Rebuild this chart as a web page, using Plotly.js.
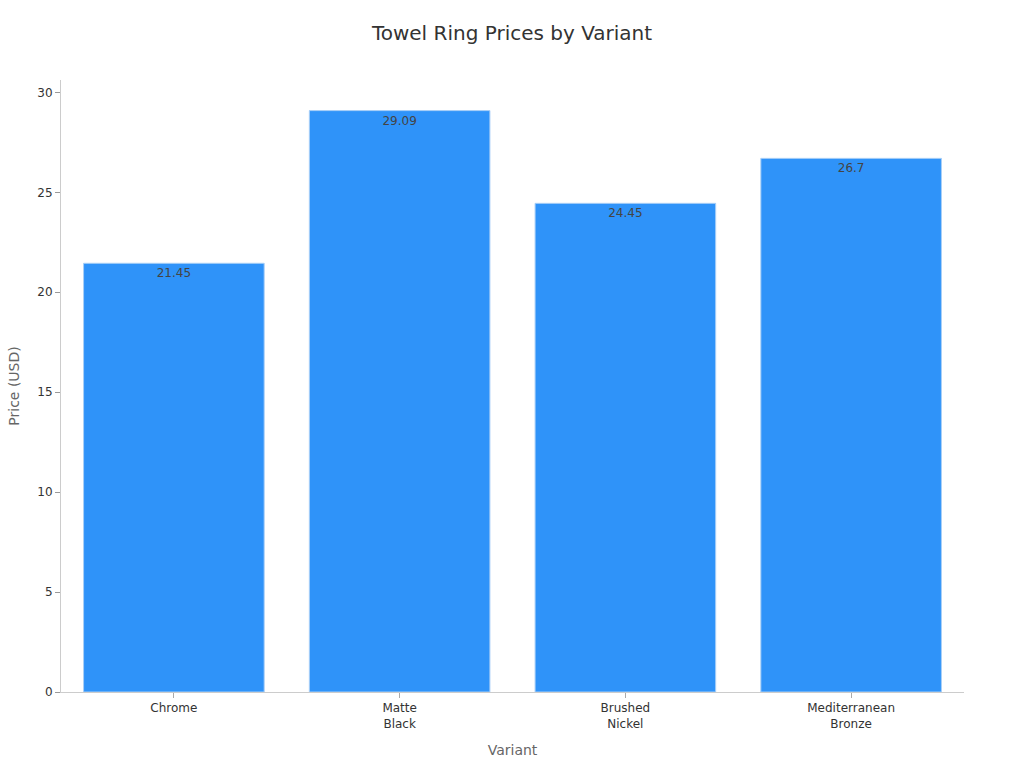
<!DOCTYPE html>
<html>
<head>
<meta charset="utf-8">
<script src="https://cdn.plot.ly/plotly-3.0.1.min.js"></script>
<style>
	html, body { margin: 0; padding: 0; background: #fff; }
	#graph { width: 1024px; height: 768px; }
</style>
</head>
<body>
<div id="graph"></div>
<script>
const variants = ["Chrome", "Matte<br>Black", "Brushed<br>Nickel", "Mediterranean<br>Bronze"];
const prices = [21.45, 29.09, 24.45, 26.7];
const priceLabels = ["21.45", "29.09", "24.45", "26.7"];

const FONT = "DejaVu Sans, Verdana, sans-serif";

const trace = {
	type: "bar",
	x: variants,
	y: prices,
	text: priceLabels,
	textposition: "inside",
	insidetextanchor: "end",
	textfont: { family: FONT, size: 12, color: "#444" },
	marker: {
		color: "#2f93f9",
		line: { color: "#a9cff7", width: 1 },
	},
	hoverinfo: "x+y",
};

const layout = {
	width: 1024,
	height: 768,
	margin: { l: 61, r: 60, t: 80, b: 76 },
	paper_bgcolor: "#fff",
	plot_bgcolor: "#fff",
	font: { family: FONT, size: 12, color: "#333" },
	title: {
		text: "Towel Ring Prices by Variant",
		x: 0.5,
		y: 1 - 33 / 768,
		xanchor: "center",
		yanchor: "middle",
		font: { family: FONT, size: 20, color: "#333" },
	},
	bargap: 0.2,
	showlegend: false,
	xaxis: {
		title: { text: "Variant", font: { size: 14, color: "#666" }, standoff: 15 },
		showline: true,
		linecolor: "#ccc",
		ticks: "outside",
		ticklen: 5,
		tickcolor: "#aaa",
		showgrid: false,
		tickfont: { size: 12, color: "#333" },
	},
	yaxis: {
		title: { text: "Price (USD)", font: { size: 14, color: "#666" }, standoff: 14 },
		showline: true,
		linecolor: "#ccc",
		ticks: "outside",
		ticklen: 5,
		tickcolor: "#999",
		showgrid: false,
		zeroline: false,
		dtick: 5,
		rangemode: "tozero",
		tickfont: { size: 12, color: "#333" },
	},
};

Plotly.newPlot("graph", [trace], layout, { displayModeBar: false, staticPlot: true });
</script>
</body>
</html>
